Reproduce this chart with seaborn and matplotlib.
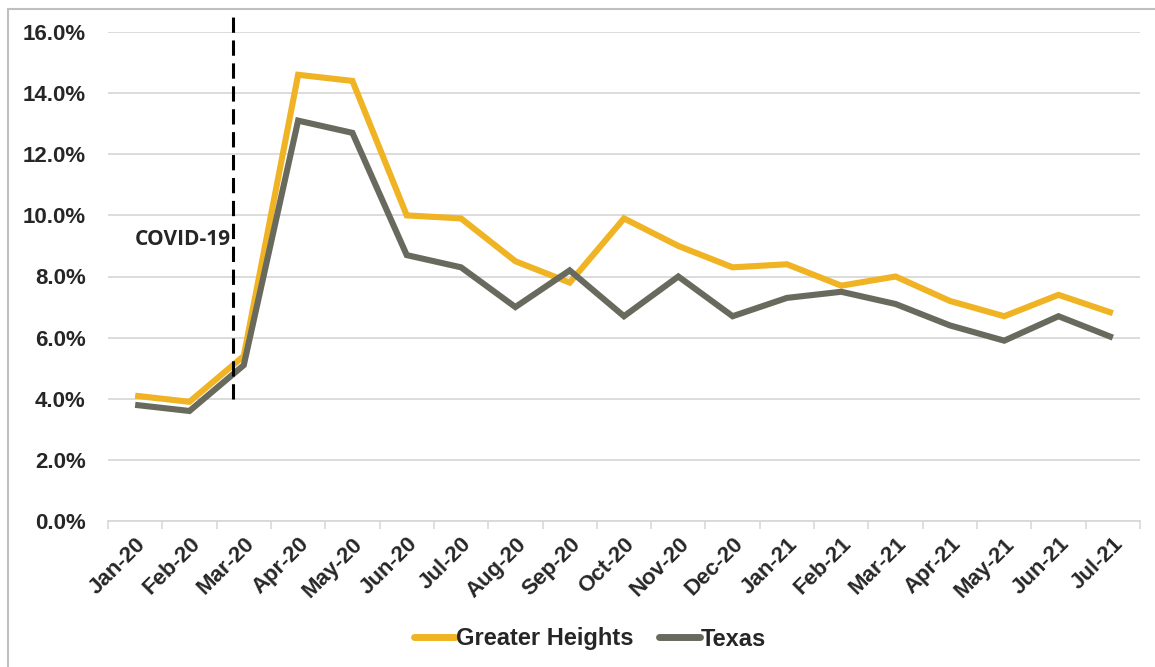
import matplotlib
matplotlib.use("Agg")
import matplotlib.pyplot as plt
import seaborn as sns
import pandas as pd
import numpy as np
from matplotlib.lines import Line2D

months = ["Jan-20", "Feb-20", "Mar-20", "Apr-20", "May-20", "Jun-20", "Jul-20",
          "Aug-20", "Sep-20", "Oct-20", "Nov-20", "Dec-20", "Jan-21", "Feb-21",
          "Mar-21", "Apr-21", "May-21", "Jun-21", "Jul-21"]
greater_heights = [4.1, 3.9, 5.4, 14.6, 14.4, 10.0, 9.9, 8.5, 7.8, 9.9, 9.0, 8.3,
                   8.4, 7.7, 8.0, 7.2, 6.7, 7.4, 6.8]
texas = [3.8, 3.6, 5.1, 13.1, 12.7, 8.7, 8.3, 7.0, 8.2, 6.7, 8.0, 6.7,
         7.3, 7.5, 7.1, 6.4, 5.9, 6.7, 6.0]
series_names = ["Greater Heights", "Texas"]
yticks = [0, 2, 4, 6, 8, 10, 12, 14, 16]

sns.set_theme(style="white")
plt.rcParams['font.family'] = ['Liberation Sans', 'DejaVu Sans']

df = pd.DataFrame({
    "idx": list(range(len(months))) * 2,
    "value": greater_heights + texas,
    "series": [series_names[0]] * len(months) + [series_names[1]] * len(months),
})
palette = {"Greater Heights": "#F0B323", "Texas": "#686A5E"}

W, H = 1155, 667
fig = plt.figure(figsize=(W / 100, H / 100), dpi=100)
ax = fig.add_axes([108 / W, 1 - 521 / H, (1140 - 108) / W, (521 - 32) / H])

sns.lineplot(data=df, x="idx", y="value", hue="series", hue_order=series_names,
             palette=palette, linewidth=4.4, ax=ax, legend=False, sort=False,
             solid_capstyle="butt", solid_joinstyle="miter")

ax.set_xlim(-0.5, len(months) - 0.5)
ax.set_ylim(0, 16)
ax.set_yticks(yticks)
ax.set_yticklabels([f"{v:.1f}%" for v in yticks], fontsize=16, fontweight="bold")
ax.set_xticks(range(len(months)))
ax.set_xticklabels(months, rotation=45, ha="right", rotation_mode="anchor",
                   fontsize=16, fontweight="bold")
ax.set_xticks(np.arange(-0.5, len(months), 1.0), minor=True)
ax.tick_params(axis="x", which="major", length=0, pad=9)
ax.tick_params(axis="x", which="minor", length=6, width=1.2, color="#D9D9D9",
               direction="out", bottom=True)
ax.tick_params(axis="y", length=0, pad=16)
ax.set_xlabel("")
ax.set_ylabel("")
ax.grid(axis="y", color="#D9D9D9", linewidth=1.3)
ax.set_axisbelow(True)
for s in ["top", "right", "left"]:
    ax.spines[s].set_visible(False)
ax.spines["bottom"].set_color("#D9D9D9")
ax.spines["bottom"].set_linewidth(1.3)

# COVID-19 marker
ax.plot([1.8, 1.8], [4.0, 16.5], color="black", linewidth=2.2,
        linestyle=(0, (5, 2.5)), clip_on=False, zorder=5)
ax.text(1.77, 9.2, "COVID-19", ha="right", va="center", fontsize=15,
        fontweight="bold", family=["Open Sans", "DejaVu Sans"])

handles = [Line2D([0], [0], color=palette[n], linewidth=5, solid_capstyle="round")
           for n in series_names]
fig.legend(handles, series_names, loc="center", bbox_to_anchor=(590 / W, 1 - 639 / H),
           ncol=2, frameon=False, handlelength=1.75, handletextpad=0.05,
           columnspacing=1.05, prop={"size": 17, "weight": "bold"})

# outer frame (left and top edges)
fig.add_artist(Line2D([8 / W, 8 / W], [0, 1 - 9 / H], transform=fig.transFigure,
                      color="#BFBFBF", linewidth=1.5))
fig.add_artist(Line2D([8 / W, 1], [1 - 9 / H, 1 - 9 / H], transform=fig.transFigure,
                      color="#BFBFBF", linewidth=1.5))

fig.savefig("out.png", dpi=100)
